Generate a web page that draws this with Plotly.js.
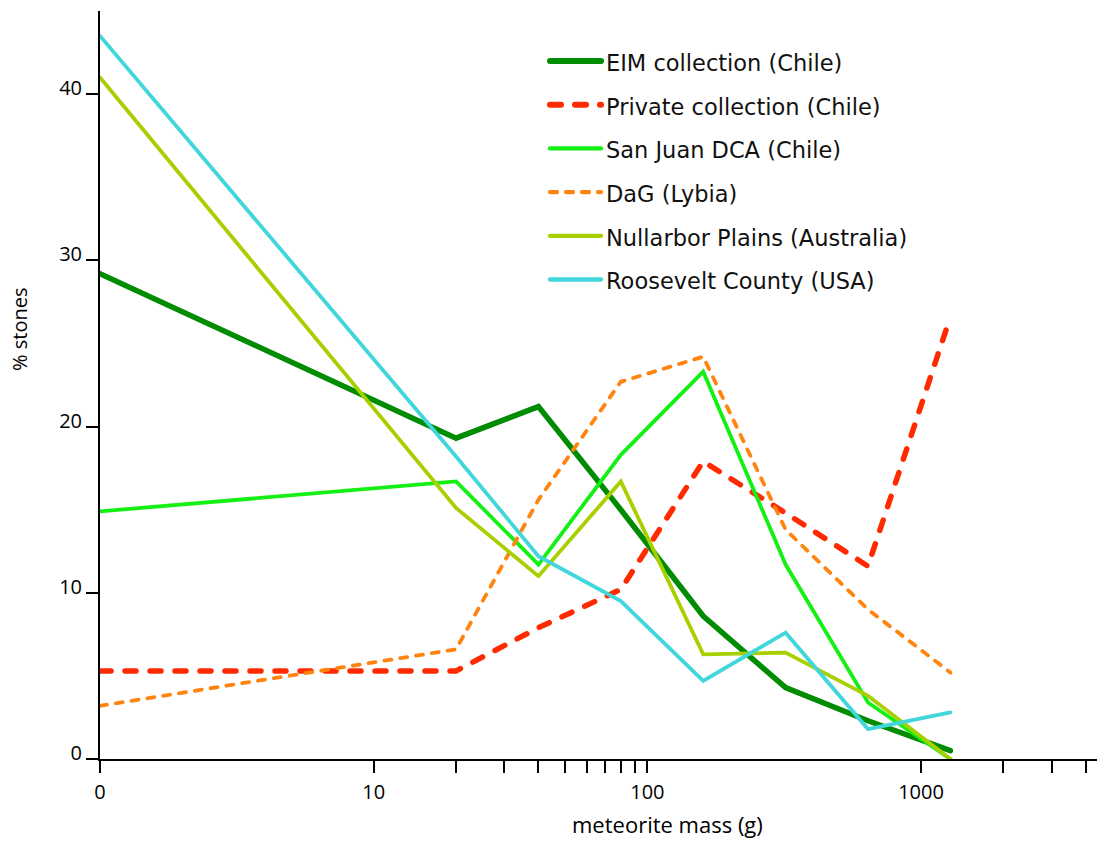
<!DOCTYPE html>
<html>
<head>
<meta charset="utf-8">
<script src="https://cdn.plot.ly/plotly-3.0.1.min.js"></script>
<style>
  html, body { margin: 0; padding: 0; background: #fff; }
  #chart { width: 1097px; height: 841px; }
  .scatterlayer .js-line, .shapelayer path { stroke-linecap: round; }
</style>
</head>
<body>
<div id="chart"></div>
<script>
// Mass bins (g), plotted on a log axis
const massBins = [1, 20, 40, 80, 160, 320, 640, 1280];

// % of stones per mass bin
const eimChile       = [29.2, 19.3, 21.2, 15.0, 8.6, 4.3, 2.3, 0.5];
const privateChile   = [5.3, 5.3, 7.9, 10.2, 17.9, 14.8, 11.6, 26.6];
const sanJuanChile   = [14.9, 16.7, 11.7, 18.3, 23.3, 11.7, 3.4, 0];
const dagLybia       = [3.2, 6.6, 15.6, 22.7, 24.2, 13.8, 9.0, 5.2];
const nullarborAus   = [41.0, 15.1, 11.0, 16.7, 6.3, 6.4, 3.8, 0];
const rooseveltUSA   = [43.5, 18.2, 12.2, 9.5, 4.7, 7.6, 1.8, 2.8];

const seriesNames = [
  'EIM collection (Chile)',
  'Private collection (Chile)',
  'San Juan DCA (Chile)',
  'DaG (Lybia)',
  'Nullarbor Plains (Australia)',
  'Roosevelt County (USA)'
];
const seriesValues = [eimChile, privateChile, sanJuanChile, dagLybia, nullarborAus, rooseveltUSA];

// Axis ticks
const xTickVals = [1, 10, 20, 30, 40, 50, 60, 70, 80, 90, 100, 1000, 2000, 3000, 4000];
const xTickText = ['0', '10', '', '', '', '', '', '', '', '', '100', '1000', '', '', ''];
const yTickVals = [0, 10, 20, 30, 40];

// Line styles per series
const styles = [
  { color: '#008c00', width: 5.5, dash: 'solid' },
  { color: '#ff2a00', width: 5.5, dash: '11px,14px' },
  { color: '#14f014', width: 3.8, dash: 'solid' },
  { color: '#ff8410', width: 3.8, dash: '7px,9px' },
  { color: '#a8d000', width: 3.8, dash: 'solid' },
  { color: '#40d6dc', width: 3.8, dash: 'solid' }
];

const traces = seriesNames.map((name, i) => ({
  type: 'scatter',
  mode: 'lines',
  name: name,
  x: massBins,
  y: seriesValues[i],
  line: { color: styles[i].color, width: styles[i].width, dash: styles[i].dash },
  showlegend: false,
  hoverinfo: 'x+y+name'
}));

// Plot area geometry in pixels
const M = { l: 100, r: 0, t: 11, b: 82 };
const W = 1097, H = 841;
const plotW = W - M.l - M.r, plotH = H - M.t - M.b;
const toPaperX = px => (px - M.l) / plotW;
const toPaperY = py => (H - M.b - py) / plotH;

// Legend drawn as line samples plus labels
const legendTop = 61, legendStep = 43.7;
const shapes = [];
const annotations = [];
seriesNames.forEach((name, i) => {
  const yy = toPaperY(legendTop + i * legendStep);
  shapes.push({
    type: 'line', xref: 'paper', yref: 'paper',
    x0: toPaperX(550), x1: toPaperX(601), y0: yy, y1: yy,
    line: { color: styles[i].color, width: styles[i].width + 0.5, dash: styles[i].dash }
  });
  annotations.push({
    xref: 'paper', yref: 'paper', x: toPaperX(604), y: toPaperY(legendTop + i * legendStep + 2),
    xanchor: 'left', yanchor: 'middle', showarrow: false,
    text: name,
    font: { family: 'DejaVu Sans', size: 22.5, color: '#111' }
  });
});

// Axis titles
annotations.push({
  xref: 'paper', yref: 'paper', x: toPaperX(667), y: toPaperY(824),
  xanchor: 'center', yanchor: 'middle', showarrow: false,
  text: 'meteorite mass (g)',
  font: { family: 'Open Sans', size: 22, color: '#000' }
});
annotations.push({
  xref: 'paper', yref: 'paper', x: toPaperX(19), y: toPaperY(330),
  xanchor: 'center', yanchor: 'middle', showarrow: false, textangle: -90,
  text: '% stones',
  font: { family: 'Open Sans', size: 20, color: '#000' }
});

const layout = {
  width: W, height: H,
  margin: M,
  paper_bgcolor: '#fff', plot_bgcolor: '#fff',
  showlegend: false,
  xaxis: {
    type: 'log',
    range: [0, 3.643],
    tickmode: 'array', tickvals: xTickVals, ticktext: xTickText,
    ticks: 'outside', ticklen: 12, tickwidth: 2, tickcolor: '#000',
    showline: true, linecolor: '#000', linewidth: 2,
    showgrid: false, zeroline: false,
    tickfont: { family: 'Open Sans', size: 20, color: '#000' },
    ticklabelstandoff: 2
  },
  yaxis: {
    range: [0, 45],
    tickmode: 'array', tickvals: yTickVals,
    ticks: 'outside', ticklen: 12, tickwidth: 2, tickcolor: '#000',
    showline: true, linecolor: '#000', linewidth: 2,
    showgrid: false, zeroline: false,
    tickfont: { family: 'Open Sans', size: 20, color: '#000' },
    ticklabelshift: -6
  },
  shapes: shapes,
  annotations: annotations
};

Plotly.newPlot('chart', traces, layout, { displayModeBar: false, staticPlot: true });
</script>
</body>
</html>
